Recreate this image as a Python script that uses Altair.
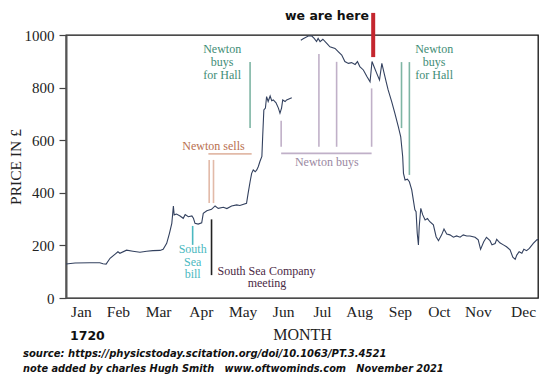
import json
import altair as alt
import pandas as pd

# ---------------- data ----------------
months = ["Jan", "Feb", "Mar", "Apr", "May", "Jun", "Jul", "Aug", "Sep", "Oct", "Nov", "Dec"]
month_pos = [0.38, 1.32, 2.34, 3.43, 4.49, 5.52, 6.51, 7.45, 8.49, 9.48, 10.47, 11.62]

seg1_m = [0.00, 0.23, 0.61, 0.86, 0.94, 1.02, 1.12, 1.25, 1.32, 1.37, 1.54, 1.70, 1.88, 2.05, 2.21,
          2.39, 2.47, 2.56, 2.63, 2.69, 2.73, 2.75, 2.81, 2.90, 2.98, 3.03, 3.11, 3.20, 3.24, 3.28,
          3.36, 3.45, 3.49, 3.58, 3.70, 3.79, 3.87, 4.00, 4.09, 4.21, 4.34, 4.42, 4.59, 4.63, 4.68,
          4.72, 4.76, 4.81, 4.85, 4.89, 4.93, 4.98, 5.00, 5.03, 5.07, 5.10, 5.14, 5.19, 5.23, 5.27,
          5.34, 5.40, 5.44, 5.48, 5.51, 5.57, 5.61, 5.74]
seg1_p = [129, 133, 134, 134, 130, 129, 151, 167, 176, 170, 182, 178, 174, 178, 180,
          181, 185, 208, 246, 284, 350, 316, 319, 312, 303, 317, 309, 312, 303, 284,
          281, 286, 322, 332, 337, 350, 341, 345, 340, 350, 354, 352, 360, 398, 442,
          474, 487, 480, 487, 500, 519, 538, 613, 715, 722, 766, 747, 768, 750, 753,
          742, 722, 703, 722, 753, 747, 753, 761]

seg2_m = [5.97, 6.03, 6.16, 6.25, 6.31, 6.37, 6.41, 6.46, 6.53, 6.63, 6.71, 6.84, 6.92, 7.01, 7.09,
          7.18, 7.26, 7.35, 7.41, 7.47, 7.56, 7.65, 7.73, 7.78, 7.83, 7.90, 7.97, 8.03, 8.08, 8.14,
          8.19, 8.28, 8.36, 8.45, 8.51, 8.56, 8.58, 8.62, 8.68, 8.73, 8.79, 8.83, 8.87, 8.90, 8.93,
          8.96, 8.98, 9.02, 9.07, 9.13, 9.19, 9.25, 9.34, 9.41, 9.47, 9.55, 9.61, 9.68, 9.76, 9.85,
          9.93, 10.02, 10.10, 10.19, 10.27, 10.40, 10.48, 10.54, 10.62, 10.69, 10.78, 10.83, 10.91, 10.95, 11.03,
          11.12, 11.20, 11.29, 11.36, 11.42, 11.46, 11.52, 11.59, 11.64, 11.71, 11.78, 11.88, 11.97, 12.00]
seg2_p = [980, 986, 996, 996, 987, 975, 987, 975, 984, 968, 955, 949, 937, 924, 899,
          892, 895, 888, 899, 880, 867, 842, 822, 899, 880, 854, 829, 892, 860, 822,
          791, 747, 703, 651, 613, 537, 474, 449, 452, 442, 411, 373, 335, 328, 246,
          202, 271, 341, 316, 297, 302, 290, 278, 233, 218, 240, 262, 243, 240, 231,
          236, 231, 240, 236, 236, 231, 221, 185, 214, 231, 218, 202, 207, 223, 210,
          202, 195, 183, 155, 147, 163, 176, 170, 185, 180, 189, 208, 221, 222]

# annotation verticals: month, top price, bottom price, colour
vr_m = [4.68, 8.53, 8.73, 3.64, 3.75, 5.47, 6.43, 6.88, 7.77, 3.22, 3.70]
vr_top = [897, 897, 897, 525, 525, 674, 928, 898, 797, 274, 299]
vr_bot = [646, 646, 468, 361, 361, 575, 575, 575, 575, 202, 87]
GREEN_L, ORANGE_L, PURPLE_L, TEAL, BLACK = "#7fb5a4", "#e2baa8", "#c0b0c8", "#4bb8c0", "#222222"
vr_col = [GREEN_L, GREEN_L, GREEN_L, ORANGE_L, ORANGE_L, PURPLE_L, PURPLE_L, PURPLE_L, PURPLE_L, TEAL, BLACK]

# annotation horizontals
hr_m1 = [3.62, 5.47]
hr_m2 = [4.72, 7.77]
hr_p = [548, 550]
hr_col = [ORANGE_L, PURPLE_L]

# "we are here" marker
here_m = [7.81]
here_top = [1084]
here_bot = [916]

# annotation texts
GREEN_T, ORANGE_T, PURPLE_T, MEET_T = "#3f8d76", "#b9704f", "#9a88a2", "#4b2a45"
tx_text = ["Newton", "buys", "for Hall", "Newton", "buys", "for Hall", "Newton sells", "Newton buys",
           "South", "Sea", "bill", "South Sea Company", "meeting"]
tx_m = [3.97, 3.97, 3.97, 9.36, 9.36, 9.36, 3.75, 6.63, 3.22, 3.22, 3.22, 5.10, 5.11]
tx_p = [930, 881, 831, 930, 881, 831, 563, 502, 171, 121, 76, 87, 43]
tx_col = [GREEN_T, GREEN_T, GREEN_T, GREEN_T, GREEN_T, GREEN_T, ORANGE_T, PURPLE_T,
          TEAL, TEAL, TEAL, MEET_T, MEET_T]

NB = "\u00a0"
footer_1 = "source: https://physicstoday.scitation.org/doi/10.1063/PT.3.4521"
footer_2 = ("note added by charles Hugh Smith" + NB + NB + " www.oftwominds.com" + NB + NB
            + " November 2021")

line_df = pd.concat([
    pd.DataFrame({"m": seg1_m, "price": seg1_p, "seg": "a"}),
    pd.DataFrame({"m": seg2_m, "price": seg2_p, "seg": "b"}),
])
vr_df = pd.DataFrame({"m": vr_m, "price": vr_top, "p2": vr_bot, "c": vr_col})
hr_df = pd.DataFrame({"m": hr_m1, "m2": hr_m2, "price": hr_p, "c": hr_col})
here_df = pd.DataFrame({"m": here_m, "price": here_top, "p2": here_bot})
tx_df = pd.DataFrame({"m": tx_m, "price": tx_p, "t": tx_text, "c": tx_col})

SERIF = "Liberation Serif"
W, H = 472, 263
xscale = alt.Scale(domain=[0, 12], nice=False, zero=False)
yscale = alt.Scale(domain=[0, 1000], nice=False)

label_expr = json.dumps(months) + "[floor(datum.value)]"

X = alt.X("m:Q", scale=xscale,
          axis=alt.Axis(values=month_pos, labelExpr=label_expr, title="MONTH", ticks=False,
                        domain=False, grid=False, labelFont=SERIF, labelFontSize=15.5,
                        labelColor="#222", labelPadding=6, titleFont=SERIF, titleFontSize=16,
                        titleFontWeight="normal", titleColor="#222", titlePadding=7,
                        labelFlush=False, labelOverlap=False))
Y = alt.Y("price:Q", scale=yscale,
          axis=alt.Axis(values=[0, 200, 400, 600, 800, 1000], format="d", title="PRICE IN £",
                        grid=False, tickSize=7, tickColor="#444", tickWidth=1.2, domainColor="#555",
                        domainWidth=2, labelFont=SERIF, labelFontSize=15, labelColor="#222",
                        labelPadding=5, titleFont=SERIF, titleFontSize=15.5,
                        titleFontWeight="normal", titleColor="#222", titleX=-42.5, titleY=131.5,
                        titleAngle=-90, titleBaseline="bottom", titleAlign="center",
                        labelFlush=False, labelOverlap=False))

line = alt.Chart(line_df).mark_line(color="#33415f", strokeWidth=1.1).encode(
    x=X, y=Y, detail="seg:N")

vrules = alt.Chart(vr_df).mark_rule(strokeWidth=1.6).encode(
    x=X, y=Y, y2="p2:Q", color=alt.Color("c:N", scale=None))
hrules = alt.Chart(hr_df).mark_rule(strokeWidth=1.6).encode(
    x=X, x2="m2:Q", y=Y, color=alt.Color("c:N", scale=None))
here = alt.Chart(here_df).mark_rule(strokeWidth=4, color="#c4262e").encode(
    x=X, y=Y, y2="p2:Q")
texts = alt.Chart(tx_df).mark_text(font=SERIF, fontSize=12, align="center",
                                   baseline="alphabetic").encode(
    x=X, y=Y, text="t:N", color=alt.Color("c:N", scale=None))

here_label = alt.Chart(pd.DataFrame({"t": ["we are here"], "m": [7.70], "price": [1057]})).mark_text(
    font="DejaVu Sans", fontWeight="bold", fontSize=12.5, align="right", baseline="alphabetic",
    color="#111").encode(x=X, y=Y, text="t:N")

year = alt.Chart(pd.DataFrame({"t": ["1720"]})).mark_text(
    font="DejaVu Sans", fontWeight="bold", fontSize=12.5, align="left", baseline="alphabetic",
    color="#111").encode(x=alt.value(4), y=alt.value(305), text="t:N")

foot1 = alt.Chart(pd.DataFrame({"t": [footer_1]})).mark_text(
    font="DejaVu Sans", fontWeight="bold", fontStyle="italic", fontSize=10, align="left",
    baseline="alphabetic", color="#111").encode(x=alt.value(-43), y=alt.value(321.5), text="t:N")
foot2 = alt.Chart(pd.DataFrame({"t": [footer_2]})).mark_text(
    font="DejaVu Sans", fontWeight="bold", fontStyle="italic", fontSize=9.8, align="left",
    baseline="alphabetic", color="#111").encode(x=alt.value(-43), y=alt.value(336.5), text="t:N")

chart = alt.layer(line, vrules, hrules, here, texts, here_label, year, foot1, foot2).properties(
    width=W, height=H,
    background="white",
    autosize=alt.AutoSizeParams(type="none"),
    padding={"left": 58, "top": 27, "right": 4, "bottom": 80},
).configure_view(stroke="#111111", strokeWidth=1.3)

chart.save("out.html", embed_options={"renderer": "svg", "actions": False})
